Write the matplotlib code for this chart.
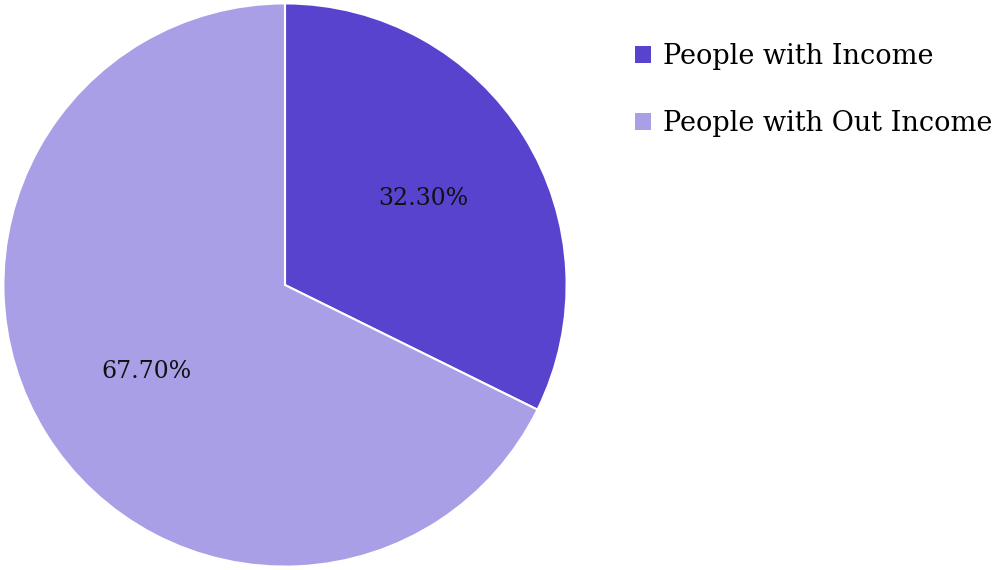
import matplotlib.pyplot as plt
from matplotlib.patches import Patch

labels = ['People with Income', 'People with Out Income']
values = [32.3, 67.7]
colors = ['#5843CF', '#A89FE6']

plt.rcParams['font.family'] = ['DejaVu Serif']

fig = plt.figure(figsize=(10, 5.7), dpi=100)
ax = fig.add_axes([0.002, 0.0035, 0.566, 0.993])

wedges, texts, autotexts = ax.pie(
    values, colors=colors, startangle=90, counterclock=False,
    autopct='%.2f%%', pctdistance=0.58,
    wedgeprops=dict(edgecolor='white', linewidth=1.5),
    textprops=dict(fontsize=17, color='#111111'))
ax.set_xlim(-1.005, 1.005)
ax.set_ylim(-1.005, 1.005)
ax.set_aspect('equal')

handles = [Patch(facecolor=c, edgecolor='none') for c in colors]
fig.legend(handles, labels, loc='upper left', bbox_to_anchor=(0.635, 0.925),
           frameon=False, fontsize=19.5, handlelength=0.6, handleheight=0.6,
           handletextpad=0.45, labelspacing=1.5, borderpad=0, borderaxespad=0)

fig.savefig('out.png', dpi=100)
